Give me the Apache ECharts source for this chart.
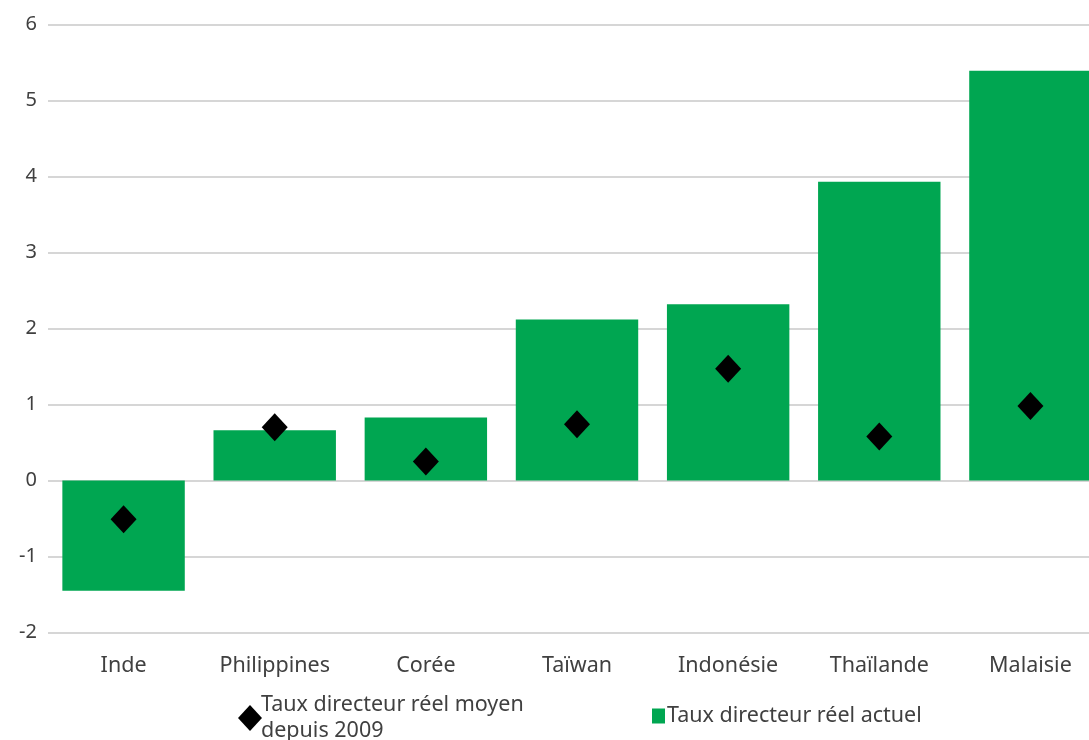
<!DOCTYPE html>
<html>
<head>
<meta charset="utf-8">
<script src="https://cdn.jsdelivr.net/npm/echarts@6/dist/echarts.min.js"></script>
<style>
  html, body { margin: 0; padding: 0; background: #ffffff; overflow: hidden; }
  #chart { width: 1106px; height: 740px; }
</style>
</head>
<body>
<div id="chart"></div>
<script>
// Pays (axe des catégories)
const categories = ['Inde', 'Philippines', 'Corée', 'Taïwan', 'Indonésie', 'Thaïlande', 'Malaisie'];
// Taux directeur réel actuel (barres)
const tauxActuel = [-1.45, 0.66, 0.83, 2.12, 2.32, 3.93, 5.39];
// Taux directeur réel moyen depuis 2009 (losanges)
const tauxMoyen = [-0.51, 0.70, 0.25, 0.74, 1.47, 0.58, 0.98];
// Graduations de l'axe vertical
const yTicks = { min: -2, max: 6, interval: 1 };

const nameMoyen = 'Taux directeur réel moyen depuis 2009';
const nameActuel = 'Taux directeur réel actuel';
const fontFamily = '"Noto Sans", "Open Sans", sans-serif';
const green = '#00a651';
const textColor = '#404040';

const chart = echarts.init(document.getElementById('chart'));
chart.setOption({
  animation: false,
  textStyle: { fontFamily: fontFamily },
  grid: { left: 48, right: 0, top: 24.5, bottom: 107.5, containLabel: false },
  legend: [
    {
      data: [{ name: nameMoyen, icon: 'diamond' }],
      left: 233, top: 687,
      itemWidth: 24, itemHeight: 26, itemGap: 0,
      formatter: () => 'Taux directeur réel moyen\ndepuis 2009',
      textStyle: { fontSize: 21.5, color: textColor, lineHeight: 26, padding: [0, 0, 0, -6] },
      itemStyle: { opacity: 1 }
    },
    {
      data: [{ name: nameActuel, icon: 'rect' }],
      left: 647, top: 700,
      itemWidth: 13, itemHeight: 15,
      textStyle: { fontSize: 21.5, color: textColor, padding: [0, 0, 0, -3] }
    }
  ],
  xAxis: {
    type: 'category',
    data: categories,
    position: 'bottom',
    axisLine: { show: false, onZero: false },
    axisTick: { show: false },
    axisLabel: { color: textColor, fontSize: 21.5, margin: 22 }
  },
  yAxis: {
    type: 'value',
    min: yTicks.min, max: yTicks.max, interval: yTicks.interval,
    axisLine: { show: false },
    axisTick: { show: false },
    axisLabel: { color: textColor, fontSize: 20, margin: 11 },
    splitLine: { lineStyle: { color: '#c8c8c8', width: 1.5 } }
  },
  series: [
    {
      name: nameActuel,
      type: 'bar',
      data: tauxActuel,
      barCategoryGap: '19%',
      itemStyle: { color: green }
    },
    {
      name: nameMoyen,
      type: 'scatter',
      data: tauxMoyen,
      symbol: 'diamond',
      symbolSize: [26, 28],
      itemStyle: { color: '#000000', opacity: 1 },
      z: 5
    }
  ]
});
</script>
</body>
</html>
